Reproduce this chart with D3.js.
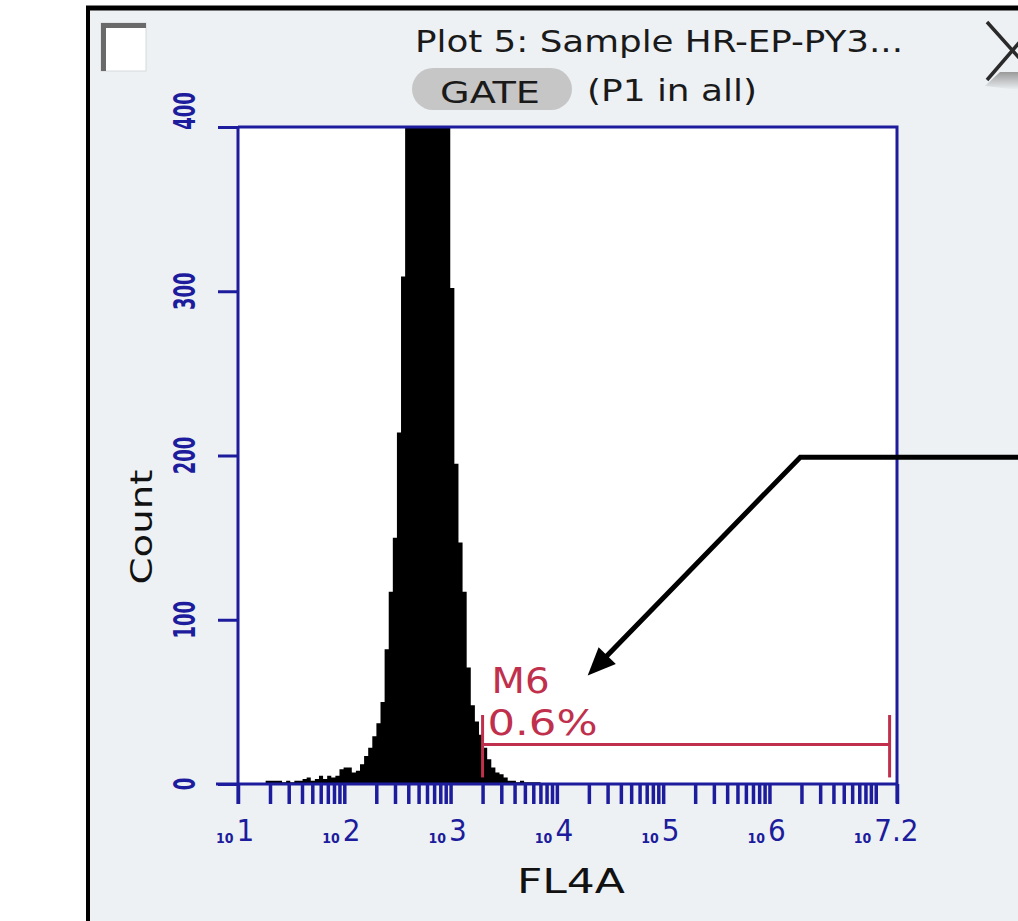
<!DOCTYPE html>
<html>
<head>
<meta charset="utf-8">
<script src="https://d3js.org/d3.v7.min.js"></script>
<style>
  body { margin: 0; background: #fff; }
  svg { display: block; }
  .lbl { font-family: 'DejaVu Sans Condensed', 'DejaVu Sans', sans-serif; }
</style>
</head>
<body>
<div id="chart"></div>
<script>
// histogram bins: log10 of first bin's low edge, bin width in decades, counts per bin
var binStart = 1.26;
var binWidth = 0.0386;
var counts = [2, 2, 2, 2, 1, 2, 1, 2, 2, 3, 4, 2, 3, 5, 3, 5, 4, 5, 9, 10,
  10, 7, 8, 12, 17, 22, 29, 37, 50, 82, 117, 150, 214, 309,
  470, 560, 640, 700, 730, 720, 690, 640, 580, 510, 440,
  302, 195, 147, 117, 71, 48, 38, 30, 22, 15, 10, 7, 6, 4, 2, 2, 1, 2, 1, 1, 1, 1];

// axes
var xDomain = [10, Math.pow(10, 7.2)];
var yDomain = [0, 400];
var yTicks = [0, 100, 200, 300, 400];
var decadeExps = [1, 2, 3, 4, 5, 6, 7];
var decadeLabels = ["1", "2", "3", "4", "5", "6", "7.2"];

// M6 marker (gate) and its readout
var gateLo = 2000, gateHi = 1.35e7, gateLevel = 24, gateTop = 42, gateBottom = 4;
var gateName = "M6", gatePct = "0.6%";

// callout arrow pointing at the gate label (data coords)
var arrowElbow = [Math.pow(10, 6.29), 199];
var arrowTip = [Math.pow(10, 4.29), 66];

var W = 1018, H = 921;
var plot = { left: 238, top: 127, right: 897, bottom: 784 };
var axisBlue = "#1c1c9c";
var gateRed = "#c0304c";

var svg = d3.select("#chart").append("svg").attr("width", W).attr("height", H);

// window frame
svg.append("rect").attr("x", 88).attr("y", 8).attr("width", W - 88).attr("height", H - 8)
  .attr("fill", "#edf1f4");
svg.append("line").attr("x1", 88).attr("x2", 88).attr("y1", 6).attr("y2", H)
  .attr("stroke", "#000").attr("stroke-width", 4);
svg.append("line").attr("x1", 86).attr("x2", W).attr("y1", 8).attr("y2", 8)
  .attr("stroke", "#000").attr("stroke-width", 5);

// checkbox top-left
svg.append("rect").attr("x", 101).attr("y", 23).attr("width", 45).attr("height", 48)
  .attr("fill", "#fff").attr("stroke", "#d8dadc").attr("stroke-width", 1);
svg.append("path").attr("d", "M103.5,71 V25.5 H146")
  .attr("fill", "none").attr("stroke", "#6a6a6a").attr("stroke-width", 5);

// close X top-right
var grad = svg.append("defs").append("linearGradient").attr("id", "xshade")
  .attr("x1", 0).attr("y1", 0).attr("x2", 0).attr("y2", 1);
grad.append("stop").attr("offset", "0%").attr("stop-color", "#9a9a9a");
grad.append("stop").attr("offset", "100%").attr("stop-color", "#edf1f4");
svg.append("path").attr("d", "M985,86 L1000,72 L1018,72 L1018,90 Z").attr("fill", "url(#xshade)");
svg.append("path").attr("d", "M987,22 L1037,78 M987,80 L1037,22")
  .attr("stroke", "#2a2a2a").attr("stroke-width", 3.5).attr("fill", "none");

// title + gate pill
svg.append("text").attr("class", "lbl").attr("x", 415).attr("y", 52)
  .attr("font-size", 31).attr("fill", "#1a1a1a")
  .attr("textLength", 488).attr("lengthAdjust", "spacingAndGlyphs")
  .text("Plot 5: Sample HR-EP-PY3...");
svg.append("rect").attr("x", 412).attr("y", 68).attr("width", 160).attr("height", 42)
  .attr("rx", 21).attr("fill", "#c6c6c6");
svg.append("text").attr("class", "lbl").attr("x", 440).attr("y", 103)
  .attr("font-size", 31).attr("fill", "#1a1a1a")
  .attr("textLength", 100).attr("lengthAdjust", "spacingAndGlyphs").text("GATE");
svg.append("text").attr("class", "lbl").attr("x", 587).attr("y", 101)
  .attr("font-size", 31).attr("fill", "#1a1a1a")
  .attr("textLength", 170).attr("lengthAdjust", "spacingAndGlyphs").text("(P1 in all)");

// scales
var x = d3.scaleLog().domain(xDomain).range([plot.left, plot.right]);
var y = d3.scaleLinear().domain(yDomain).range([plot.bottom, plot.top]).clamp(true);

// plot area
svg.append("rect").attr("x", plot.left).attr("y", plot.top)
  .attr("width", plot.right - plot.left).attr("height", plot.bottom - plot.top)
  .attr("fill", "#fff");

// histogram as stepped area
var bins = counts.map(function (c, i) {
  return { lo: Math.pow(10, binStart + i * binWidth), c: c };
});
bins.push({ lo: Math.pow(10, binStart + counts.length * binWidth), c: 0 });
var area = d3.area()
  .x(function (d) { return x(d.lo); })
  .y0(y(0))
  .y1(function (d) { return y(d.c); })
  .curve(d3.curveStepAfter);
svg.append("path").datum(bins).attr("d", area).attr("fill", "#000");

// gate marker
var g = svg.append("g").attr("stroke", gateRed).attr("stroke-width", 3);
g.append("line").attr("x1", x(gateLo)).attr("x2", x(gateHi))
  .attr("y1", y(gateLevel)).attr("y2", y(gateLevel));
[gateLo, gateHi].forEach(function (v) {
  g.append("line").attr("x1", x(v)).attr("x2", x(v))
    .attr("y1", y(gateTop)).attr("y2", y(gateBottom));
});
svg.append("text").attr("class", "lbl").attr("x", x(gateLo) + 9).attr("y", 693)
  .attr("font-size", 36).attr("fill", gateRed)
  .attr("textLength", 58).attr("lengthAdjust", "spacingAndGlyphs").text(gateName);
svg.append("text").attr("class", "lbl").attr("x", x(gateLo) + 5).attr("y", 735)
  .attr("font-size", 36).attr("fill", gateRed)
  .attr("textLength", 110).attr("lengthAdjust", "spacingAndGlyphs").text(gatePct);

// axes frame (top and right borders)
svg.append("path")
  .attr("d", "M" + plot.left + "," + plot.top + " H" + plot.right + " V" + (plot.bottom + 19))
  .attr("fill", "none").attr("stroke", axisBlue).attr("stroke-width", 3);

// y axis
var yAxis = d3.axisLeft(y).tickValues(yTicks).tickSize(20).tickFormat("");
var ya = svg.append("g").attr("transform", "translate(" + plot.left + ",0)").call(yAxis);
ya.select(".domain").remove();
ya.selectAll(".tick line").attr("stroke", axisBlue).attr("stroke-width", 3);
svg.append("line").attr("x1", plot.left).attr("x2", plot.left)
  .attr("y1", plot.top).attr("y2", plot.bottom + 20)
  .attr("stroke", axisBlue).attr("stroke-width", 3);
svg.selectAll(".ylab").data(yTicks).enter().append("text")
  .attr("class", "lbl ylab")
  .attr("transform", function (d) {
    var cy = d === yDomain[1] ? y(d) - 16 : y(d);
    return "translate(195," + cy + ") rotate(-90)";
  })
  .attr("text-anchor", "middle").attr("font-size", 30).attr("font-weight", "bold")
  .attr("fill", axisBlue)
  .attr("textLength", function (d) { return String(d).length * 12.5; })
  .attr("lengthAdjust", "spacingAndGlyphs")
  .text(function (d) { return d; });
svg.append("text").attr("class", "lbl")
  .attr("transform", "translate(152,527) rotate(-90)")
  .attr("text-anchor", "middle").attr("font-size", 30).attr("fill", "#111")
  .attr("textLength", 115).attr("lengthAdjust", "spacingAndGlyphs").text("Count");

// x axis: decade and minor ticks
var minor = [];
decadeExps.forEach(function (e) {
  for (var m = 1; m < 10; m++) {
    var v = m * Math.pow(10, e);
    if (v <= xDomain[1]) minor.push(v);
  }
});
minor.push(xDomain[1]);
var xAxis = d3.axisBottom(x).tickValues(minor).tickSize(20).tickFormat("");
var xa = svg.append("g").attr("transform", "translate(0," + plot.bottom + ")").call(xAxis);
xa.select(".domain").remove();
xa.selectAll(".tick line").attr("stroke", axisBlue).attr("stroke-width", 3.5);
svg.append("line").attr("x1", plot.left - 22).attr("x2", plot.right)
  .attr("y1", plot.bottom).attr("y2", plot.bottom)
  .attr("stroke", axisBlue).attr("stroke-width", 3);

var xl = svg.selectAll(".xlab").data(decadeExps).enter().append("text")
  .attr("class", "lbl xlab")
  .attr("x", function (d) { return x(Math.pow(10, d)) - 22; })
  .attr("y", 843).attr("fill", axisBlue);
xl.append("tspan").attr("font-size", 14).attr("font-weight", "bold").text("10");
xl.append("tspan").attr("font-size", 31).attr("dx", 3).attr("dy", -2)
  .text(function (d, i) { return decadeLabels[i]; });

svg.append("text").attr("class", "lbl").attr("x", 571).attr("y", 893)
  .attr("text-anchor", "middle").attr("font-size", 34).attr("fill", "#111")
  .attr("textLength", 108).attr("lengthAdjust", "spacingAndGlyphs").text("FL4A");

// callout arrow
var ex = x(arrowElbow[0]), ey = y(arrowElbow[1]);
var tx = x(arrowTip[0]), ty = y(arrowTip[1]);
var dx = tx - ex, dy = ty - ey, len = Math.sqrt(dx * dx + dy * dy);
var ux = dx / len, uy = dy / len;
var headL = 28, headW = 12;
var bx = tx - ux * headL, by = ty - uy * headL;
svg.append("path")
  .attr("d", "M" + W + "," + ey + " H" + ex + " L" + (tx - ux * 20) + "," + (ty - uy * 20))
  .attr("fill", "none").attr("stroke", "#000").attr("stroke-width", 5);
svg.append("path")
  .attr("d", "M" + tx + "," + ty + " L" + (bx - uy * headW) + "," + (by + ux * headW) +
    " L" + (bx + uy * headW) + "," + (by - ux * headW) + " Z")
  .attr("fill", "#000");
</script>
</body>
</html>
